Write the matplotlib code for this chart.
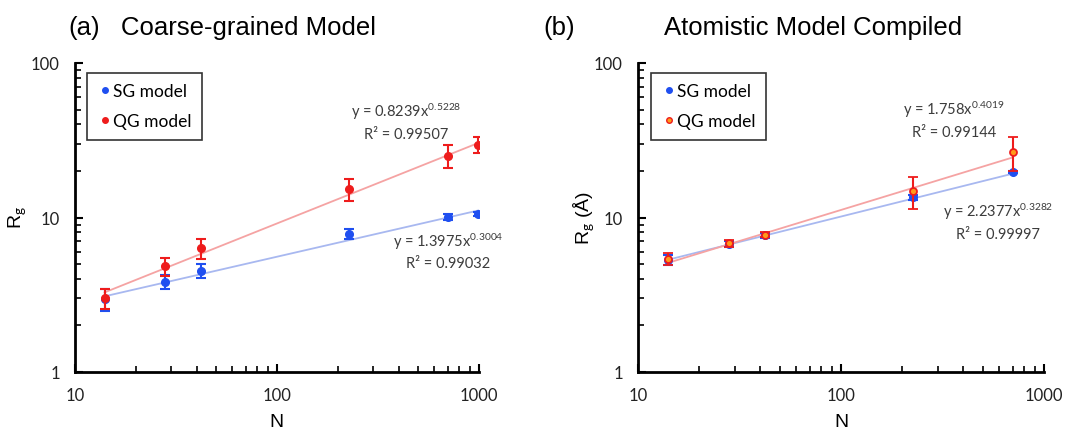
import numpy as np
import matplotlib
matplotlib.use("Agg")
import matplotlib.pyplot as plt
from matplotlib.lines import Line2D

plt.rcParams['mathtext.fontset'] = 'custom'
plt.rcParams['mathtext.rm'] = 'Lato'
plt.rcParams['mathtext.it'] = 'Lato:italic'
plt.rcParams['font.family'] = ['Liberation Sans', 'DejaVu Sans']

# ---------------- data ----------------
# (a) Coarse-grained model
n_a = [14, 28, 42, 226, 700, 990]
sg_a = [2.97, 3.84, 4.53, 7.82, 10.07, 10.48]
sg_a_err = [0.5, 0.4, 0.45, 0.55, 0.5, 0.3]
qg_a = [3.0, 4.83, 6.31, 15.3, 25.1, 29.6]
qg_a_err = [0.45, 0.65, 0.9, 2.5, 4.3, 3.6]
fit_a_qg = (0.8239, 0.5228, "0.99507")
fit_a_sg = (1.3975, 0.3004, "0.99032")

# (b) Atomistic model compiled
n_b = [14, 28, 42, 226, 700]
sg_b = [5.33, 6.77, 7.67, 13.5, 19.6]
sg_b_err = [0.4, 0.3, 0.25, 0.5, 0.3]
qg_b = [5.41, 6.84, 7.74, 14.8, 26.7]
qg_b_err = [0.45, 0.35, 0.3, 3.5, 6.7]
fit_b_qg = (1.758, 0.4019, "0.99144")
fit_b_sg = (2.2377, 0.3282, "0.99997")

x_ticks = [10, 100, 1000]
y_ticks = [1, 10, 100]
series_labels = ['SG model', 'QG model']

RED = '#ee1c1c'
BLUE = '#1f4ff0'
ORANGE = '#ff9a1a'
RED_LINE = '#f5a3a3'
BLUE_LINE = '#a8b8f0'
TXT = '#3c3c3c'

fig = plt.figure(figsize=(10.77, 4.31), dpi=100)
W, H = 1077, 431


def axes_px(l, r, t, b):
    return fig.add_axes([l / W, 1 - b / H, (r - l) / W, (b - t) / H])


ax_a = axes_px(75, 479, 64, 373)
ax_b = axes_px(638, 1044, 64, 373)


def fit_line(ax, n, coef, color):
    a, k = coef[0], coef[1]
    xs = np.array([n[0], n[-1]], dtype=float)
    ax.plot(xs, a * xs ** k, color=color, lw=1.3, zorder=1)


def eq_text(ax, x, y1, y2, coef):
    a, k, r2 = coef
    ax.text(x, y1, "y = %s$\\mathrm{x}^{%s}$" % (("%g" % a), ("%.4f" % k)),
            transform=ax.transAxes, ha='center', va='center',
            fontsize=10.5, family='Lato', color=TXT)
    ax.text(x, y2, "R² = %s" % r2, transform=ax.transAxes, ha='center',
            va='center', fontsize=10.5, family='Lato', color=TXT)


def style(ax):
    ax.set_xscale('log')
    ax.set_yscale('log')
    ax.set_xlim(10, 1000)
    ax.set_ylim(1, 100)
    ax.set_xticks(x_ticks)
    ax.set_xticklabels([str(v) for v in x_ticks])
    ax.set_yticks(y_ticks)
    ax.set_yticklabels([str(v) for v in y_ticks])
    for s in ['top', 'right']:
        ax.spines[s].set_visible(False)
    for s in ['left', 'bottom']:
        ax.spines[s].set_linewidth(2)
    ax.tick_params(which='major', direction='in', length=6, width=1.5, pad=11,
                   labelsize=12)
    ax.tick_params(which='minor', direction='in', length=4, width=1.2)
    for lab in ax.get_xticklabels() + ax.get_yticklabels():
        lab.set_family('Lato')
        lab.set_color('#222222')


# panel a
fit_line(ax_a, n_a, fit_a_sg, BLUE_LINE)
fit_line(ax_a, n_a, fit_a_qg, RED_LINE)
ax_a.errorbar(n_a, sg_a, yerr=sg_a_err, fmt='o', color=BLUE, ms=5.5,
              capsize=3.5, elinewidth=1.5, capthick=1.5, zorder=3)
ax_a.errorbar(n_a, qg_a, yerr=qg_a_err, fmt='o', color=RED, ms=5.5,
              capsize=3.5, elinewidth=1.5, capthick=1.5, zorder=4)
style(ax_a)
eq_text(ax_a, 0.819, 0.845, 0.770, fit_a_qg)
eq_text(ax_a, 0.923, 0.424, 0.353, fit_a_sg)

# panel b
fit_line(ax_b, n_b, fit_b_sg, BLUE_LINE)
fit_line(ax_b, n_b, fit_b_qg, RED_LINE)
ax_b.errorbar(n_b, sg_b, yerr=sg_b_err, fmt='o', color=BLUE, ms=5.5,
              capsize=3.5, elinewidth=1.5, capthick=1.5, zorder=3)
ax_b.errorbar(n_b, qg_b, yerr=qg_b_err, fmt='o', color=RED, mfc=ORANGE,
              mec=RED, mew=1.3, ms=5, capsize=3.5, elinewidth=1.5,
              capthick=1.5, zorder=4)
style(ax_b)
eq_text(ax_b, 0.778, 0.851, 0.777, fit_b_qg)
eq_text(ax_b, 0.887, 0.521, 0.447, fit_b_sg)

handles_a = [Line2D([], [], ls='none', marker='o', ms=4, color=BLUE),
             Line2D([], [], ls='none', marker='o', ms=4, color=RED)]
handles_b = [Line2D([], [], ls='none', marker='o', ms=4, color=BLUE),
             Line2D([], [], ls='none', marker='o', ms=4, mfc=ORANGE, mec=RED,
                    mew=1.0)]

for ax, x0, hs in [(ax_a, 0.03, handles_a), (ax_b, 0.032, handles_b)]:
    leg = ax.legend(hs, series_labels, loc='upper left',
                    bbox_to_anchor=(x0, 0.968), borderaxespad=0,
                    fancybox=False, edgecolor='#333333', framealpha=1,
                    prop={'family': 'Lato', 'size': 12.5}, handletextpad=0.0,
                    handlelength=0.9, labelspacing=0.8, borderpad=0.6)
    leg.get_frame().set_linewidth(1.2)

# titles
fig.text(68 / W, 1 - 28 / H, "(a)", fontsize=18.5, va='center', ha='left')
fig.text(121 / W, 1 - 28 / H, "Coarse-grained Model", fontsize=18.5,
         va='center', ha='left')
fig.text(543 / W, 1 - 28 / H, "(b)", fontsize=18.5, va='center', ha='left')
fig.text(664 / W, 1 - 28 / H, "Atomistic Model Compiled", fontsize=18.5,
         va='center', ha='left')

# axis labels
fig.text(276 / W, 1 - 423 / H, "N", fontsize=14, ha='center', va='center')
fig.text(841 / W, 1 - 423 / H, "N", fontsize=14, ha='center', va='center')
fig.text(17 / W, 1 - 218 / H, "R$_{\\mathrm{g}}$", fontsize=14, ha='center',
         va='center', rotation=90)
fig.text(584 / W, 1 - 218 / H, "R$_{\\mathrm{g}}$ (Å)", fontsize=14,
         ha='center', va='center', rotation=90)

fig.savefig("out.png", dpi=100)
